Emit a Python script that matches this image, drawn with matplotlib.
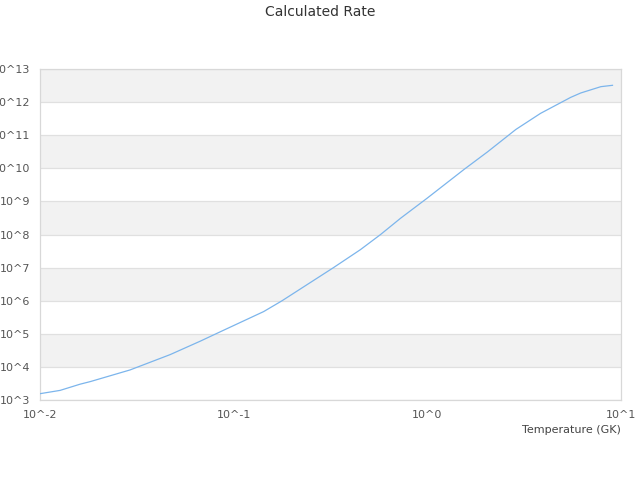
import numpy as np
import matplotlib
matplotlib.use("Agg")
import matplotlib.pyplot as plt
from matplotlib.ticker import FuncFormatter, FixedLocator

# temperature in GK and calculated rate
temperature = [0.0100, 0.0127, 0.0161, 0.0182, 0.0292, 0.047, 0.0673, 0.0853,
               0.143, 0.178, 0.328, 0.452, 0.574, 0.728, 1.00, 1.55,
               2.05, 2.87, 3.85, 5.51, 6.21, 7.89, 9.06]
rate = [1.55e3, 1.95e3, 3.0e3, 3.6e3, 8.1e3, 2.35e4, 6.0e4, 1.15e5,
        4.7e5, 1.0e6, 1.0e7, 3.5e7, 1.0e8, 3.1e8, 1.26e9, 9.3e9,
        3.16e10, 1.5e11, 4.6e11, 1.4e12, 1.9e12, 2.95e12, 3.24e12]

x_decades = [-2, -1, 0, 1]
y_decades = list(range(3, 14))

fig = plt.figure(figsize=(6.4, 4.8), dpi=100)
ax = fig.add_axes([0.0625, 0.1667, 0.9075, 0.6893])

# alternating bands
for d in y_decades[:-1]:
    if (d - 3) % 2 == 1:
        ax.axhspan(10.0 ** d, 10.0 ** (d + 1), color="#f2f2f2", zorder=0, lw=0)

ax.plot(temperature, rate, color="#7cb5ec", lw=0.9, zorder=3)

ax.set_xscale("log")
ax.set_yscale("log")
ax.set_xlim(10.0 ** x_decades[0], 10.0 ** x_decades[-1])
ax.set_ylim(10.0 ** y_decades[0], 10.0 ** y_decades[-1])

fmt = FuncFormatter(lambda v, p: "10^%d" % int(round(np.log10(v))))
ax.xaxis.set_major_locator(FixedLocator([10.0 ** d for d in x_decades]))
ax.yaxis.set_major_locator(FixedLocator([10.0 ** d for d in y_decades]))
ax.xaxis.set_minor_locator(FixedLocator([]))
ax.yaxis.set_minor_locator(FixedLocator([]))
ax.xaxis.set_major_formatter(fmt)
ax.yaxis.set_major_formatter(fmt)

ax.tick_params(axis="both", length=0, labelsize=8, labelcolor="#555555")
ax.tick_params(axis="x", pad=7)
ax.tick_params(axis="y", pad=7)
ax.grid(axis="y", color="#e0e0e0", lw=0.9, zorder=1)
for s in ax.spines.values():
    s.set_color("#d8d8d8")
    s.set_linewidth(0.9)

ax.set_xlabel("Temperature (GK)", loc="right", fontsize=8, color="#444444", labelpad=4)
fig.text(0.5, 0.975, "Calculated Rate", ha="center", va="center", fontsize=10, color="#333333")

fig.savefig("out.png", dpi=100)
